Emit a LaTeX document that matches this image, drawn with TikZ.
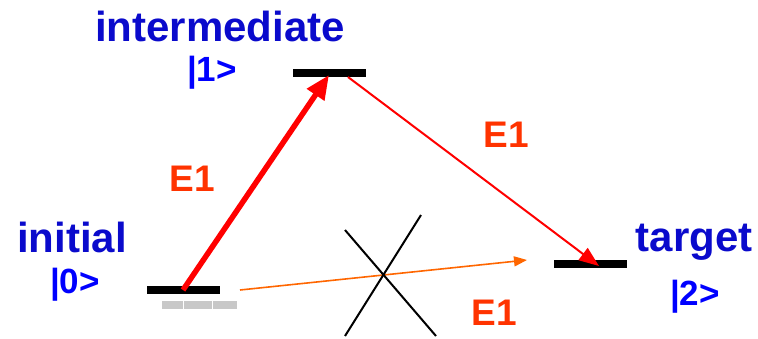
\documentclass[tikz,border=0pt]{standalone}
\usepackage{fontspec}
\setmainfont{Liberation Sans}
\usetikzlibrary{arrows.meta}
\definecolor{wordblue}{RGB}{10,10,204}
\definecolor{ketblue}{RGB}{0,0,255}
\definecolor{eorange}{RGB}{255,51,0}
\definecolor{arrorange}{RGB}{255,102,0}
\definecolor{ghost}{RGB}{200,200,200}
\tikzset{
  level/.style={draw=none,fill=black,minimum width=73pt,minimum height=8pt,inner sep=0pt,outer sep=0pt},
  word/.style={text=wordblue,font=\bfseries\fontsize{42}{42}\selectfont,anchor=base,inner sep=0pt},
  ket/.style={text=ketblue,font=\bfseries\fontsize{35}{35}\selectfont,anchor=base,inner sep=0pt},
  elabel/.style={text=eorange,font=\bfseries\fontsize{37}{37}\selectfont,anchor=base,inner sep=0pt},
  crossline/.style={black,line width=2pt},
}
\begin{document}
\begin{tikzpicture}[x=1pt,y=-1pt]
\useasboundingbox (0,0) rectangle (758,338);
% levels
\node[level] (L0) at (183.5,290) {};
\node[level] (L1) at (329.5,73) {};
\node[level] (L2) at (590.5,264) {};
\node[level,fill=ghost,minimum width=75pt] (G0) at (199.5,305) {};
\draw[white,line width=0.6pt] (183,301) -- (183,309) (212,301) -- (212,309);
% labels
\node[word] (tint) at (220,41) {intermediate};
\node[ket] (k1) at (212,81) {|1>};
\node[word] (tini) at (72,252) {initial};
\node[ket] (k0) at (75,293) {|0>};
\node[word] (ttar) at (694,251) {target};
\node[ket] (k2) at (695,305) {|2>};
\node[elabel] (e1a) at (192,191) {E1};
\node[elabel] (e1b) at (506,147) {E1};
\node[elabel] (e1c) at (494,325) {E1};
% arrow end points
\coordinate (s01) at (183,290);
\coordinate (t01) at (329,75);
\coordinate (s12) at (348,77);
\coordinate (t12) at (599,266);
\coordinate (s02) at (240,290);
\coordinate (t02) at (527,260);
% arrows
\draw[red,line width=5.5pt,-{Triangle[length=24pt,width=20pt]}] (s01) -- (t01);
\draw[red,line width=2pt,-{Triangle[length=20pt,width=15pt]}] (s12) -- (t12);
\draw[arrorange,line width=1.6pt,-{Triangle[length=13pt,width=10pt]}] (s02) -- (t02);
% cross
\coordinate (c1) at (345,230);
\coordinate (c2) at (436,336);
\coordinate (c3) at (421,215);
\coordinate (c4) at (345,336);
\draw[crossline] (c1) -- (c2);
\draw[crossline] (c3) -- (c4);
\end{tikzpicture}
\end{document}
